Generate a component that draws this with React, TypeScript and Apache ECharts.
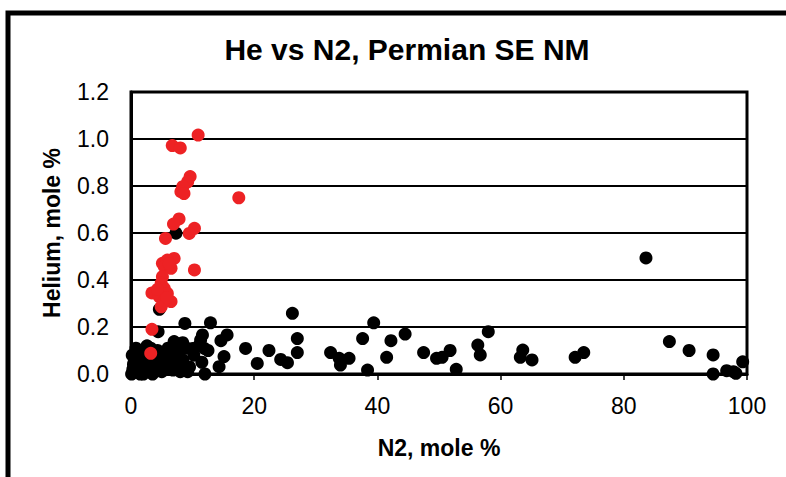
import React, { useEffect, useRef } from "react";
import * as echarts from "echarts";

const TITLE = "He vs N2, Permian SE NM";
const X_NAME = "N2, mole %";
const Y_NAME = "Helium, mole %";

// Red (high-He) samples: [N2 %, He %]
const redPoints: number[][] = [
  [10.9, 1.017], [6.7, 0.972], [8.0, 0.962], [9.6, 0.84], [9.2, 0.818],
  [8.4, 0.797], [8.1, 0.776], [8.6, 0.768], [17.5, 0.75], [7.8, 0.66],
  [6.9, 0.638], [10.3, 0.62], [9.45, 0.598], [5.6, 0.577], [10.3, 0.443],
  [5.1, 0.471], [7.0, 0.492], [5.9, 0.485], [5.4, 0.457], [6.5, 0.45],
  [5.1, 0.414], [4.9, 0.386], [3.4, 0.345], [5.4, 0.364], [4.6, 0.329],
  [5.9, 0.343], [6.5, 0.308], [5.4, 0.308], [4.9, 0.286], [3.4, 0.19],
  [3.2, 0.088], [6.2, 0.47], [4.3, 0.36], [5.8, 0.325],
];

// Black (other) samples: [N2 %, He %]
const blackPoints: number[][] = [
  [7.3, 0.599], [4.6, 0.275], [83.6, 0.494],
  [26.2, 0.258], [8.75, 0.215], [12.9, 0.218], [4.4, 0.18], [11.6, 0.166],
  [15.6, 0.166], [14.6, 0.142], [27.0, 0.151], [37.6, 0.151], [7.0, 0.138],
  [8.4, 0.133], [18.6, 0.109], [22.4, 0.1], [27.0, 0.091], [32.4, 0.091],
  [33.8, 0.067], [35.4, 0.067], [15.1, 0.074], [11.9, 0.109], [10.0, 0.109],
  [24.3, 0.062], [25.4, 0.048], [20.5, 0.045], [14.3, 0.031], [34.0, 0.038],
  [38.4, 0.017], [9.2, 0.01], [6.8, 0.017], [11.3, 0.145], [8.6, 0.03],
  [39.4, 0.218], [42.2, 0.142], [44.5, 0.17], [41.5, 0.071], [47.5, 0.091],
  [49.6, 0.067], [50.5, 0.071], [51.8, 0.1], [52.8, 0.02], [56.3, 0.123],
  [56.7, 0.081], [58.0, 0.18], [63.6, 0.102], [63.2, 0.071], [65.1, 0.06],
  [72.1, 0.071], [73.5, 0.091], [87.4, 0.138], [90.6, 0.1], [94.5, 0.081],
  [94.5, 0.0], [96.7, 0.014], [97.8, 0.01], [98.2, 0.003], [99.3, 0.052],
  [0.1, 0.0], [0.3, 0.02], [0.5, 0.05], [0.7, 0.01], [1.0, 0.03], [1.2, 0.07],
  [1.5, 0.1], [1.8, 0.04], [2.0, 0.0], [2.2, 0.06], [2.5, 0.09], [2.8, 0.02],
  [3.0, 0.05], [3.2, 0.11], [3.5, 0.0], [3.8, 0.07], [4.0, 0.03], [4.3, 0.1],
  [4.6, 0.05], [5.0, 0.01], [5.3, 0.08], [5.6, 0.04], [6.0, 0.11], [6.3, 0.02],
  [6.6, 0.07], [7.0, 0.12], [7.3, 0.04], [7.7, 0.09], [8.0, 0.01], [8.4, 0.06],
  [9.0, 0.11], [9.5, 0.03], [10.2, 0.08], [11.0, 0.12], [11.5, 0.05],
  [12.5, 0.1], [0.2, 0.08], [0.8, 0.11], [1.5, 0.0], [2.6, 0.12], [0.4, 0.04],
  [3.0, 0.08], [12.0, 0.0],
];

const X_MIN = 0, X_MAX = 100, X_STEP = 20;
const Y_MIN = 0, Y_MAX = 1.2, Y_STEP = 0.2;

const FONT = "'Liberation Sans', Arial, sans-serif";

export default function App() {
  const ref = useRef<HTMLDivElement>(null);
  useEffect(() => {
    if (!ref.current) return;
    const chart = echarts.init(ref.current, null, { renderer: "svg" });
    chart.setOption({
      animation: false,
      backgroundColor: "#fff",
      title: {
        text: TITLE,
        left: 402,
        top: 29,
        textAlign: "center",
        textStyle: { fontFamily: FONT, fontSize: 30, fontWeight: "bold", color: "#000" },
      },
      graphic: [
        {
          type: "rect",
          shape: { x: 8, y: 13, width: 900, height: 600 },
          style: { fill: "none", stroke: "#000", lineWidth: 5 },
          silent: true,
        },
      ],
      grid: {
        left: 131,
        right: 39,
        top: 92,
        bottom: 103,
        show: true,
        borderColor: "#000",
        borderWidth: 3,
        backgroundColor: "transparent",
      },
      xAxis: {
        type: "value",
        min: X_MIN,
        max: X_MAX,
        interval: X_STEP,
        name: X_NAME,
        nameLocation: "middle",
        nameGap: 62,
        nameTextStyle: { fontFamily: FONT, fontSize: 23, fontWeight: "bold", color: "#000" },
        axisLine: { show: true, lineStyle: { color: "#000", width: 3 } },
        axisTick: { show: true, inside: false, length: 6, lineStyle: { color: "#000", width: 1.5 } },
        axisLabel: { fontFamily: FONT, fontSize: 23, color: "#000", margin: 20 },
        splitLine: { show: false },
      },
      yAxis: {
        type: "value",
        min: Y_MIN,
        max: Y_MAX,
        interval: Y_STEP,
        name: Y_NAME,
        nameLocation: "middle",
        nameGap: 68,
        nameTextStyle: { fontFamily: FONT, fontSize: 23, fontWeight: "bold", color: "#000" },
        axisLine: { show: true, lineStyle: { color: "#000", width: 3 } },
        axisTick: { show: false },
        axisLabel: {
          fontFamily: FONT,
          fontSize: 23,
          color: "#000",
          margin: 22,
          formatter: (v: number) => v.toFixed(1),
        },
        splitLine: { show: true, lineStyle: { color: "#000", width: 1.8 } },
      },
      series: [
        {
          type: "scatter",
          name: "Other",
          data: blackPoints,
          symbol: "circle",
          symbolSize: 13,
          itemStyle: { color: "#000", opacity: 1 },
          z: 2,
        },
        {
          type: "scatter",
          name: "High He",
          data: redPoints,
          symbol: "circle",
          symbolSize: 13,
          itemStyle: { color: "#ED2224", opacity: 1 },
          z: 3,
        },
      ],
    });
    return () => chart.dispose();
  }, []);
  return <div ref={ref} style={{ width: 786, height: 477, position: "absolute", left: 0, top: 0 }} />;
}
